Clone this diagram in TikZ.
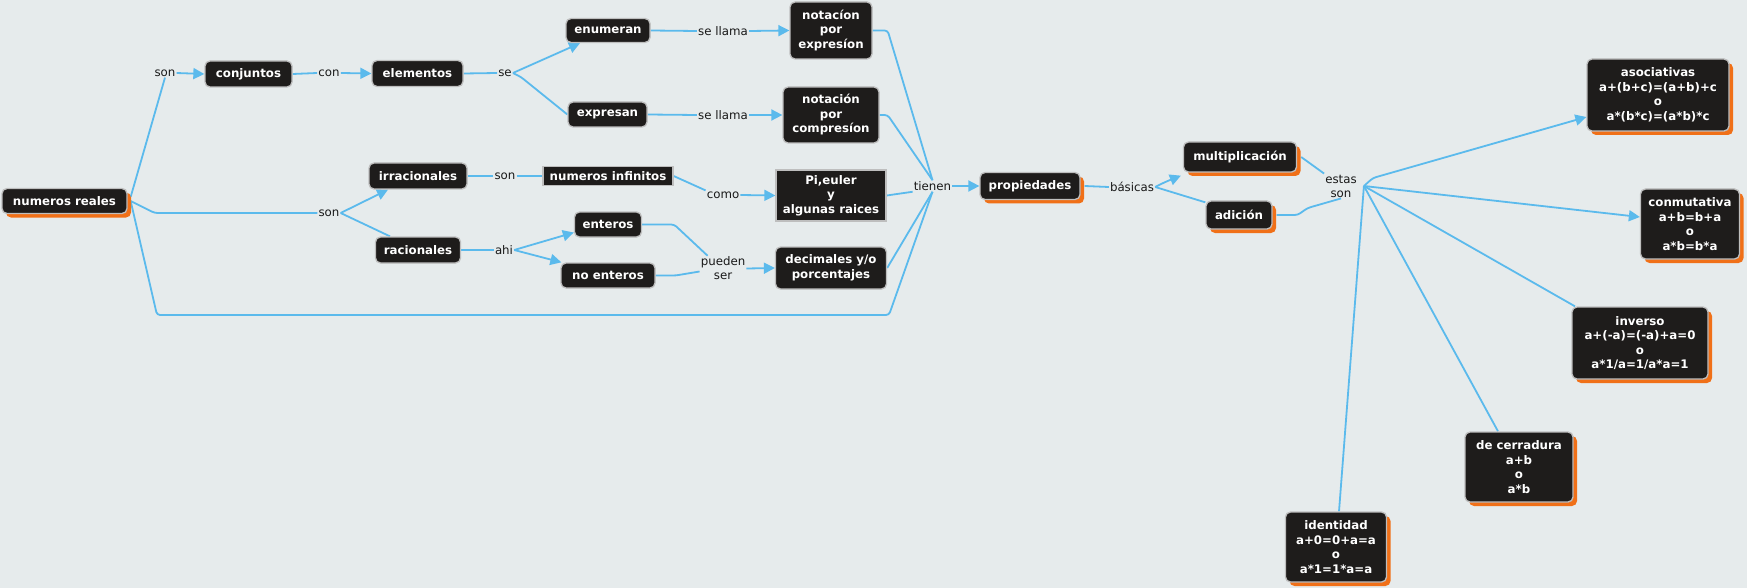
\documentclass[tikz,border=0pt]{standalone}
\usepackage{fontspec}
\setmainfont{DejaVu Sans}
\usetikzlibrary{arrows.meta,shadows,calc}
\definecolor{bgc}{RGB}{230,235,236}
\definecolor{boxc}{RGB}{30,28,27}
\definecolor{bordc}{RGB}{190,190,190}
\definecolor{orc}{RGB}{240,112,24}
\definecolor{linkc}{RGB}{91,186,236}
\definecolor{labc}{RGB}{25,25,25}
\pgfdeclarelayer{background}
\pgfsetlayers{background,main}
\begin{document}
\begin{tikzpicture}[x=1pt,y=-1pt,
  box/.style={draw=bordc, line width=1.3pt, fill=boxc, rounded corners=5pt, text=white,
    font=\fontsize{11.8}{14.5}\selectfont\bfseries, align=center, inner sep=0pt},
  sq/.style={box, rounded corners=0pt},
  osh/.style={general shadow={fill=orc, shadow xshift=4pt, shadow yshift=-4pt}},
  lab/.style={font=\fontsize{11.8}{14}\selectfont, text=labc, inner sep=1pt, align=center},
  link/.style={draw=linkc, line width=1.8pt, rounded corners=3pt},
  arr/.style={link, -{Triangle[length=11pt,width=11pt]}}]
\begin{pgfonlayer}{background}
\fill[bgc] (0,0) rectangle (1747,588);
\end{pgfonlayer}
\useasboundingbox (0,0) rectangle (1747,588);

\node[box,osh,minimum width=125pt,minimum height=25pt] (nr) at (64.5,201) {numeros reales};
\node[lab] (son1) at (165,73) {son};
\node[box,minimum width=87pt,minimum height=26pt] (conj) at (248.5,74) {conjuntos};
\node[lab] (con) at (329,73) {con};
\node[box,minimum width=91pt,minimum height=26pt] (elem) at (417.5,73.5) {elementos};
\node[lab] (se) at (505,73) {se};
\node[box,minimum width=84pt,minimum height=24pt] (enum) at (608,30.5) {enumeran};
\node[lab] (sl1) at (723,31) {se llama};
\node[box,minimum width=82pt,minimum height=57pt] (nexp) at (831,30.5) {notacíon\\por\\expresíon};
\node[box,minimum width=79pt,minimum height=25pt] (expr) at (607.5,114.5) {expresan};
\node[lab] (sl2) at (723,115) {se llama};
\node[box,minimum width=96pt,minimum height=56pt] (ncom) at (831,115) {notación\\por\\compresíon};
\node[box,minimum width=98pt,minimum height=26pt] (irr) at (418,176) {irracionales};
\node[lab] (son3) at (505,176) {son};
\node[sq,minimum width=130pt,minimum height=19pt] (ninf) at (608,176) {numeros infinitos};
\node[lab] (como) at (723,195) {como};
\node[sq,minimum width=110pt,minimum height=51pt] (pi) at (831,195.5) {Pi,euler\\y\\algunas raices};
\node[lab] (son2) at (329,213) {son};
\node[box,minimum width=85pt,minimum height=26pt] (rac) at (418,250) {racionales};
\node[lab] (ahi) at (504,250) {ahi};
\node[box,minimum width=67pt,minimum height=25pt] (ent) at (608,224.5) {enteros};
\node[box,minimum width=94pt,minimum height=25pt] (noent) at (608,275.5) {no enteros};
\node[lab] (ps) at (723,268.5) {pueden\\ser};
\node[box,minimum width=111pt,minimum height=42pt] (dec) at (831,268) {decimales y/o\\porcentajes};
\node[lab] (tien) at (932.5,186) {tienen};
\node[box,osh,minimum width=100pt,minimum height=27pt] (prop) at (1030,186) {propiedades};
\node[lab] (bas) at (1132,187) {básicas};
\node[box,osh,minimum width=113pt,minimum height=30pt] (mult) at (1240,157) {multiplicación};
\node[box,osh,minimum width=66pt,minimum height=28pt] (ad) at (1239,215) {adición};
\node[lab] (es) at (1341,186) {estas\\son};
\node[box,osh,minimum width=142pt,minimum height=72pt] (asoc) at (1658,95) {asociativas\\a+(b+c)=(a+b)+c\\o\\a*(b*c)=(a*b)*c};
\node[box,osh,minimum width=99pt,minimum height=70pt] (conm) at (1690,224) {conmutativa\\a+b=b+a\\o\\a*b=b*a};
\node[box,osh,minimum width=136pt,minimum height=72pt] (inv) at (1640,343) {inverso\\a+(-a)=(-a)+a=0\\o\\a*1/a=1/a*a=1};
\node[box,osh,minimum width=108pt,minimum height=70pt] (cer) at (1519,467) {de cerradura\\a+b\\o\\a*b};
\node[box,osh,minimum width=101pt,minimum height=70pt] (ide) at (1336,547) {identidad\\a+0=0+a=a\\o\\a*1=1*a=a};

\coordinate (bl) at (157,315);
\coordinate (br) at (889,315);
\coordinate (j) at ([xshift=6pt]es.east);

\begin{pgfonlayer}{background}
\draw[link] ([xshift=3pt,yshift=4pt]nr.east) -- (son1.south);
\draw[arr] (son1.east) -- (conj.west);
\draw[link] (conj.east) -- (con.west);
\draw[arr] (con.east) -- (elem.west);
\draw[link] (elem.east) -- (se.west);
\draw[arr] (se.east) -- ([xshift=-28pt]enum.south);
\draw[link] (se.east) -- ++(8,4) -- (expr.west);
\draw[link] (enum.east) -- (sl1.west);
\draw[arr] (sl1.east) -- (nexp.west);
\draw[link] (expr.east) -- (sl2.west);
\draw[arr] (sl2.east) -- (ncom.west);
\draw[link] ([xshift=3pt]nr.east) -- ++(24,12) -- (son2.west);
\draw[arr] (son2.east) -- ([xshift=-30pt]irr.south);
\draw[link] (son2.east) -- ([xshift=-28pt]rac.north);
\draw[link] (irr.east) -- (son3.west);
\draw[link] (son3.east) -- (ninf.west);
\draw[link] (ninf.east) -- (como.north west);
\draw[arr] (como.east) -- (pi.west);
\draw[link] (rac.east) -- (ahi.west);
\draw[arr] (ahi.east) -- ([yshift=-8pt]ent.west);
\draw[arr] (ahi.east) -- ([xshift=1pt]noent.north west);
\draw[link] (ent.east) -- ++(32,0) -- ([xshift=8pt]ps.north west);
\draw[link] (noent.east) -- ++(20,0) -- ([yshift=-3pt]ps.west);
\draw[arr] (ps.east) -- (dec.west);
\draw[link] (nexp.east) -- ++(15,0) -- (tien.north);
\draw[link] (ncom.east) -- ++(8,0) -- (tien.north);
\draw[link] (pi.east) -- (tien.south west);
\draw[link] (dec.east) -- (tien.south);
\draw[link] ([xshift=3pt]nr.east) -- (bl) -- (br) -- (tien.south);
\draw[arr] (tien.east) -- (prop.west);
\draw[link] ([xshift=4pt]prop.east) -- (bas.west);
\draw[arr] (bas.east) -- ++(10,-5) -- ([xshift=-2pt,yshift=-3pt]mult.south west);
\draw[link] (bas.east) -- ([yshift=-2pt]ad.north west);
\draw[link] ([xshift=4pt]mult.east) -- (es.north west);
\draw[link] ([xshift=4pt]ad.east) -- ++(21,0) -- ++(10,-7) -- (es.south);
\draw[arr] (j) -- ++(9,-8) -- ([yshift=-22pt]asoc.west);
\draw[arr] (j) -- ([yshift=7pt]conm.west);
\draw[link] (j) -- ([xshift=-65pt]inv.north);
\draw[link] (j) -- ([xshift=-21pt]cer.north);
\draw[link] (j) -- ([xshift=3pt]ide.north);
\end{pgfonlayer}
\end{tikzpicture}
\end{document}
